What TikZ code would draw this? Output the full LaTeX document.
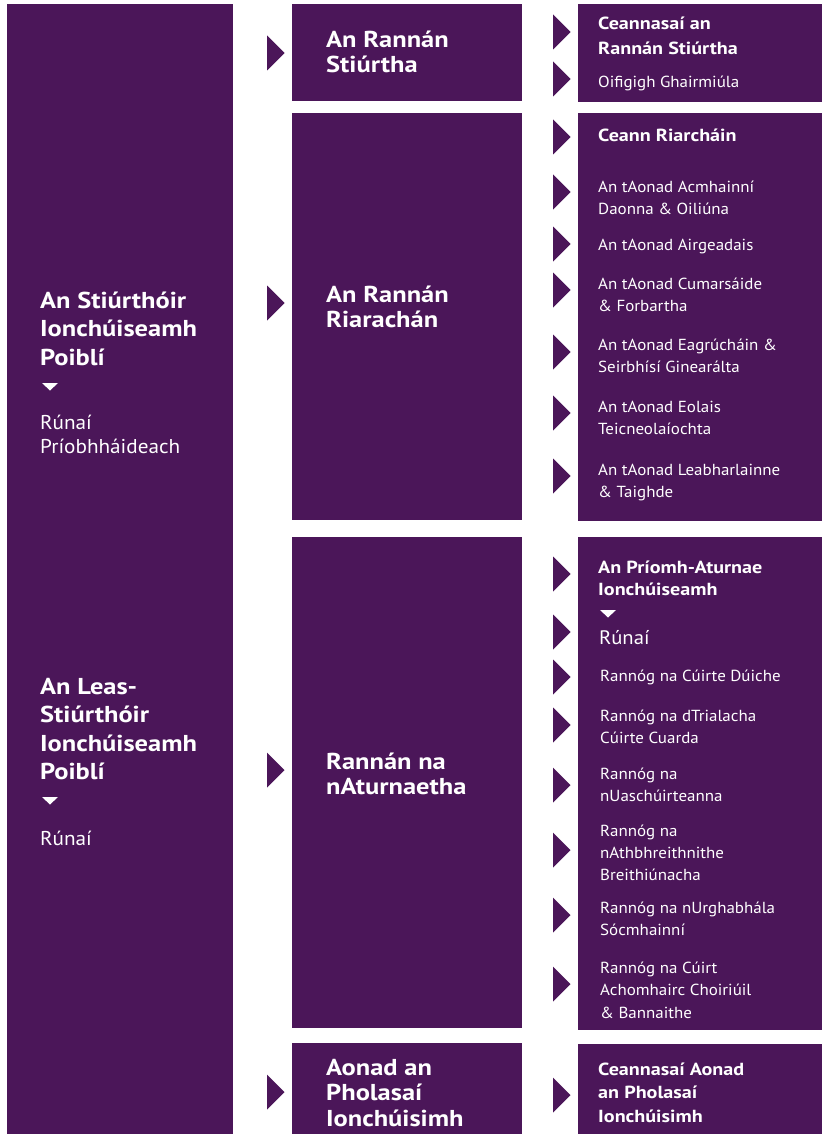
\documentclass[tikz,border=0pt]{standalone}
\usepackage{fontspec}
\setmainfont{PT Sans}[FakeStretch=1.06, BoldFeatures={FakeStretch=1.15}]
\definecolor{pur}{HTML}{4B1659}
\newcommand\mystrut{\rule{0pt}{24pt}}
\begin{document}
\begin{tikzpicture}[x=1pt,y=-1pt,
  box/.style={fill=pur, draw=none, inner sep=0, anchor=north west},
  txt/.style={anchor=north west, inner sep=0, align=left, text=white},
  hb/.style={txt, font=\bfseries\fontsize{23}{28.4}\selectfont},
  hr/.style={txt, font=\fontsize{20}{24}\selectfont},
  mb/.style={txt, font=\bfseries\fontsize{23}{25.5}\selectfont},
  rb/.style={txt, font=\bfseries\fontsize{17.5}{25.5}\selectfont},
  rr/.style={txt, font=\fontsize{16}{22.5}\selectfont},
  rarr/.pic={\fill[pur] (0,-17.5) -- (17.5,0) -- (0,17.5) -- cycle;},
  darr/.pic={\fill[white] (0,0) -- (16,0) -- (8,7.5) -- cycle;}
]
\useasboundingbox (0,0) rectangle (822,1134);
% boxes
\node[box, minimum width=226pt, minimum height=1130pt] (L) at (7,4) {};
\node[box, minimum width=230pt, minimum height=97pt] (M1) at (292,4) {};
\node[box, minimum width=230pt, minimum height=407pt] (M2) at (292,113) {};
\node[box, minimum width=230pt, minimum height=491pt] (M3) at (292,537) {};
\node[box, minimum width=230pt, minimum height=91pt] (M4) at (292,1043) {};
\node[box, minimum width=244pt, minimum height=98pt] (R1) at (578,4) {};
\node[box, minimum width=244pt, minimum height=408pt] (R2) at (578,113) {};
\node[box, minimum width=244pt, minimum height=493pt] (R3) at (578,537) {};
\node[box, minimum width=244pt, minimum height=90pt] (R4) at (578,1044) {};
% left column
\node[hb] (l1) at (40,284) {\mystrut An Stiúrthóir\\Ionchúiseamh\\Poiblí};
\pic at (42,383) {darr};
\node[hr] (l1s) at (40,405) {\mystrut Rúnaí\\Príobhháideach};
\node[hb] (l2) at (40,670) {\mystrut An Leas-\\Stiúrthóir\\Ionchúiseamh\\Poiblí};
\pic at (42,797) {darr};
\node[hr] (l2s) at (40,821) {\mystrut Rúnaí};
% middle column
\pic at (267,53) {rarr};
\pic at (267,303) {rarr};
\pic at (267,770) {rarr};
\pic at (267,1092) {rarr};
\node[mb] (m1) at (326,23) {\mystrut An Rannán\\Stiúrtha};
\node[mb] (m2) at (326,278) {\mystrut An Rannán\\Riarachán};
\node[mb] (m3) at (326,745) {\mystrut Rannán na\\nAturnaetha};
\node[mb] (m4) at (326,1051) {\mystrut Aonad an\\Pholasaí\\Ionchúisimh};
% right column arrows
\foreach \y in {32,79,137,192,244,290,352,413,476,574,632,677,725,785,850,915,984,1095}
  \pic at (553,\y) {rarr};
% right column texts
\node[rb] (a1) at (598,5) {\mystrut Ceannasaí an\\Rannán Stiúrtha};
\node[rr] (a2) at (598,63) {\mystrut Oifigigh Ghairmiúla};
\node[rb] (b1) at (598,117) {\mystrut Ceann Riarcháin};
\node[rr] (b2) at (598,168) {\mystrut An tAonad Acmhainní\\Daonna \& Oiliúna};
\node[rr] (b3) at (598,226) {\mystrut An tAonad Airgeadais};
\node[rr] (b4) at (598,265) {\mystrut An tAonad Cumarsáide\\\& Forbartha};
\node[rr] (b5) at (598,326) {\mystrut An tAonad Eagrúcháin \&\\Seirbhísí Ginearálta};
\node[rr] (b6) at (598,388) {\mystrut An tAonad Eolais\\Teicneolaíochta};
\node[rr] (b7) at (598,451) {\mystrut An tAonad Leabharlainne\\\& Taighde};
\node[rb, font=\bfseries\fontsize{17.5}{22.5}\selectfont] (c1) at (598,549) {\mystrut An Príomh-Aturnae\\Ionchúiseamh};
\pic at (600,610) {darr};
\node[txt, font=\fontsize{19.5}{22}\selectfont] (c1s) at (599,620) {\mystrut Rúnaí};
\node[rr] (c2) at (600,657) {\mystrut Rannóg na Cúirte Dúiche};
\node[rr] (c3) at (600,697) {\mystrut Rannóg na dTrialacha\\Cúirte Cuarda};
\node[rr] (c4) at (600,755) {\mystrut Rannóg na\\nUaschúirteanna};
\node[rr, font=\fontsize{16}{22}\selectfont] (c5) at (600,812) {\mystrut Rannóg na\\nAthbhreithnithe\\Breithiúnacha};
\node[rr] (c6) at (600,889) {\mystrut Rannóg na nUrghabhála\\Sócmhainní};
\node[rr] (c7) at (600,949) {\mystrut Rannóg na Cúirt\\Achomhairc Choiriúil\\\& Bannaithe};
\node[rb, font=\bfseries\fontsize{17.5}{23.5}\selectfont] (d1) at (598,1051) {\mystrut Ceannasaí Aonad\\an Pholasaí\\Ionchúisimh};
\end{tikzpicture}
\end{document}
